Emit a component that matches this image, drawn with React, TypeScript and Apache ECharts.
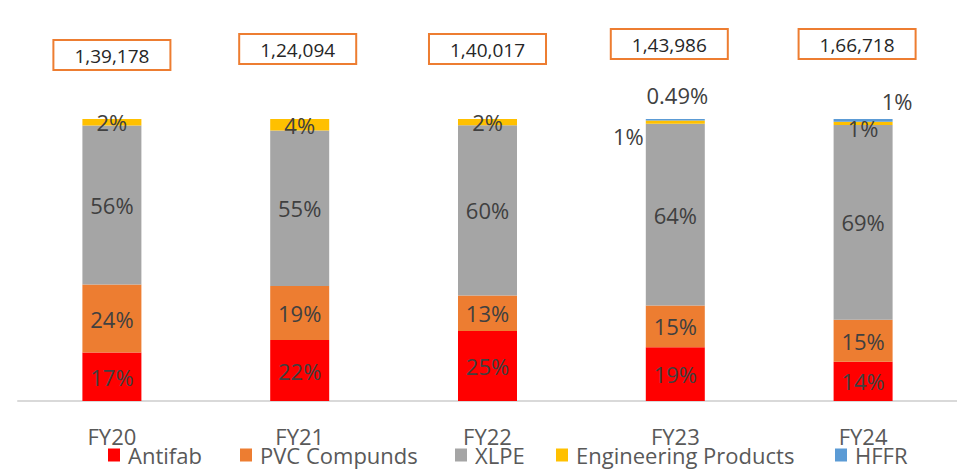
import React, { useEffect, useRef } from "react";
import * as echarts from "echarts";

const categories = ["FY20", "FY21", "FY22", "FY23", "FY24"];
const totals = [139178, 124094, 140017, 143986, 166718];
const antifab = [17.2, 21.6, 24.8, 19.1, 13.9];
const pvc = [24.1, 19.2, 12.6, 14.8, 14.9];
const xlpe = [56.4, 55.1, 60.4, 64.4, 69.1];
const engineering = [2.3, 4.1, 2.2, 1.2, 1.1];
const hffr = [0, 0, 0, 0.49, 1.0];
const seriesNames = ["Antifab", "PVC Compunds", "XLPE", "Engineering Products", "HFFR"];
const seriesColors = ["#ff0000", "#ed7d31", "#a5a5a5", "#ffc000", "#5b9bd5"];

const FONT = "'Open Sans', sans-serif";

function pct(v: number): string {
  if (!v) return "";
  if (v < 1) return v.toFixed(2) + "%";
  return Math.round(v) + "%";
}

export default function App() {
  const ref = useRef<HTMLDivElement>(null);
  useEffect(() => {
    document.body.style.margin = "0";
    if (!ref.current) return;
    const chart = echarts.init(ref.current, undefined, { renderer: "svg" });
    const labelBase = {
      show: true,
      position: "inside" as const,
      color: "#404040",
      fontSize: 22,
      fontFamily: FONT,
      formatter: (p: any) => pct(p.value),
    };
    const mk = (i: number, data: any[]) => ({
      name: seriesNames[i],
      type: "bar",
      stack: "s",
      barWidth: 59,
      data,
      itemStyle: { color: seriesColors[i] },
      label: { ...labelBase },
      emphasis: { disabled: true },
    });
    const engData = engineering.map((v, i) => {
      if (i === 3)
        return { value: v, label: { position: "left", distance: 2, offset: [0, 14] } };
      if (i === 4) return { value: v, label: { offset: [0, 5] } };
      return v;
    });
    const hffrData = hffr.map((v, i) => {
      if (i === 3) return { value: v, label: { position: "top", distance: 13, offset: [2, 0] } };
      if (i === 4) return { value: v, label: { position: "top", distance: 7, offset: [34, 0] } };
      return v;
    });
    const totalOffsets = [[0, 0], [-2, -6], [0, -6], [-6, -11], [-6, -11]];
    const totalData = totals.map((_, i) => ({
      value: 0,
      label: { offset: totalOffsets[i] },
    }));
    const legendLefts = [103, 235, 450, 551, 830];
    const legends = seriesNames.map((n, i) => ({
      data: [n],
      left: legendLefts[i],
      top: 439,
      itemWidth: 12,
      itemHeight: 13,
      icon: "rect",
      selectedMode: false,
      textStyle: {
        fontSize: 22,
        lineHeight: 22,
        color: "#595959",
        fontFamily: FONT,
        padding: [0, 0, 0, 3],
      },
    }));
    chart.setOption({
      animation: false,
      grid: { left: 18, right: 0, top: 119, bottom: 68 },
      legend: legends,
      xAxis: {
        type: "category",
        data: categories,
        axisLine: { lineStyle: { color: "#d9d9d9", width: 2 } },
        axisTick: { show: false },
        axisLabel: { color: "#595959", fontSize: 22, lineHeight: 22, fontFamily: FONT, margin: 24 },
      },
      yAxis: {
        type: "value",
        min: 0,
        max: 100,
        show: false,
        splitLine: { show: false },
      },
      series: [
        mk(0, antifab),
        mk(1, pvc),
        mk(2, xlpe),
        mk(3, engData),
        mk(4, hffrData),
        {
          name: "Total",
          type: "bar",
          stack: "s",
          barWidth: 59,
          data: totalData,
          itemStyle: { color: "transparent" },
          emphasis: { disabled: true },
          label: {
            show: true,
            position: "top",
            distance: 50,
            formatter: (p: any) => totals[p.dataIndex].toLocaleString("en-IN"),
            fontSize: 19,
            fontFamily: FONT,
            color: "#262626",
            backgroundColor: "#ffffff",
            borderColor: "#ed7d31",
            borderWidth: 2,
            padding: [5, 20, 4, 20],
          },
        },
      ],
    });
    return () => chart.dispose();
  }, []);
  return <div ref={ref} style={{ width: 957, height: 469 }} />;
}
